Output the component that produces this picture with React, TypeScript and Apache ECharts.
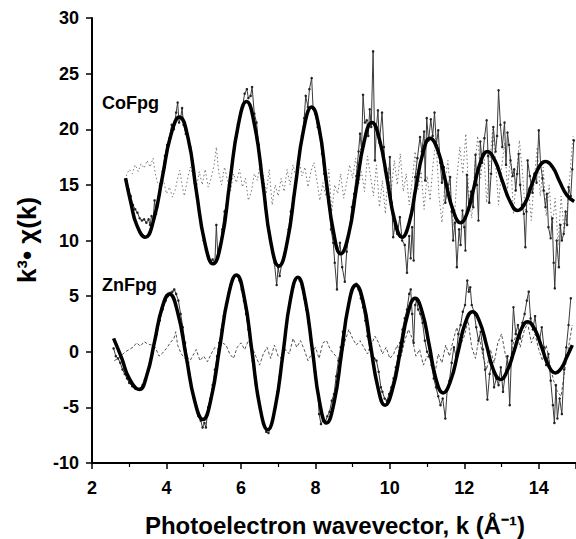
import { useEffect, useRef } from 'react';
import * as echarts from 'echarts';

// ---- CoFpg fitted curve (thick) ----
const coFit: [number, number][] = [
  [2.9, 15.6], [3.05, 13.3], [3.2, 11.4], [3.43, 10.3],
  [3.66, 11.9], [3.89, 15.7], [4.12, 19.5], [4.35, 21.1],
  [4.58, 19.2], [4.8, 14.5], [5.03, 9.8], [5.25, 7.9],
  [5.48, 10.0], [5.7, 15.2], [5.93, 20.4], [6.15, 22.5],
  [6.37, 20.3], [6.59, 15.1], [6.8, 9.9], [7.02, 7.7],
  [7.24, 9.8], [7.46, 14.85], [7.68, 19.9], [7.9, 22.0],
  [8.1, 20.1], [8.29, 15.4], [8.49, 10.7], [8.68, 8.8],
  [8.89, 10.5], [9.1, 14.7], [9.31, 18.9], [9.52, 20.6],
  [9.72, 19.1], [9.93, 15.45], [10.13, 11.8], [10.33, 10.3],
  [10.52, 11.6], [10.7, 14.75], [10.89, 17.9], [11.08, 19.2],
  [11.29, 18.1], [11.49, 15.4], [11.7, 12.7], [11.9, 11.6],
  [12.08, 12.5], [12.26, 14.8], [12.44, 17.1], [12.62, 18.0],
  [12.82, 17.2], [13.02, 15.35], [13.23, 13.5], [13.43, 12.7],
  [13.62, 13.3], [13.8, 14.9], [13.99, 16.5], [14.18, 17.1],
  [14.37, 16.6], [14.56, 15.3], [14.75, 14.1], [14.95, 13.5],
];

// ---- CoFpg experimental data (thin, dotted markers) ----
const coData: [number, number][] = [
  [2.92, 15.4], [2.98, 14.6], [3.04, 14.0], [3.1, 13.2], [3.16, 12.8], [3.22, 12.5],
  [3.28, 12.0], [3.34, 11.8], [3.4, 11.9], [3.46, 11.6], [3.52, 11.9], [3.56, 11.4],
  [3.6, 12.2], [3.64, 11.8], [3.68, 13.6], [3.72, 12.4], [3.78, 13.8], [3.84, 15.1],
  [3.9, 16.2], [3.96, 17.6], [4.02, 18.6], [4.08, 19.2], [4.14, 20.4], [4.2, 20.0],
  [4.26, 21.5], [4.3, 22.4], [4.34, 20.6], [4.38, 21.0], [4.42, 21.9], [4.46, 20.4],
  [4.52, 19.6], [4.58, 19.2], [4.64, 18.4], [4.7, 16.8], [4.76, 15.2], [4.82, 13.9],
  [4.88, 12.6], [4.94, 11.2], [5.0, 10.0], [5.06, 9.2], [5.12, 8.6], [5.18, 8.1],
  [5.24, 8.3], [5.3, 8.0], [5.34, 11.4], [5.38, 8.6], [5.44, 9.4], [5.5, 11.0],
  [5.56, 12.6], [5.62, 13.2], [5.68, 15.0], [5.74, 16.4], [5.8, 18.0], [5.86, 19.2],
  [5.92, 20.4], [5.98, 21.4], [6.04, 22.0], [6.1, 23.2], [6.16, 23.6], [6.2, 22.8],
  [6.26, 23.0], [6.3, 23.8], [6.36, 21.4], [6.42, 20.6], [6.48, 18.6], [6.54, 16.8],
  [6.6, 15.0], [6.66, 13.4], [6.72, 11.6], [6.78, 10.2], [6.84, 9.0], [6.9, 8.0],
  [6.96, 6.0], [7.0, 7.6], [7.04, 6.8], [7.1, 8.0], [7.16, 8.8], [7.22, 9.6],
  [7.28, 11.0], [7.34, 12.6], [7.4, 13.8], [7.46, 15.0], [7.52, 16.6], [7.58, 18.0],
  [7.64, 19.4], [7.7, 21.0], [7.74, 23.0], [7.8, 22.0], [7.84, 23.6], [7.9, 24.6],
  [7.94, 21.8], [8.0, 21.4], [8.06, 20.2], [8.12, 19.6], [8.18, 17.8], [8.24, 16.0],
  [8.3, 14.6], [8.36, 13.4], [8.42, 11.0], [8.48, 9.8], [8.52, 8.0], [8.58, 5.6],
  [8.62, 9.0], [8.66, 9.8], [8.72, 7.6], [8.79, 6.3], [8.84, 9.0], [8.9, 10.6],
  [8.98, 13.0], [9.04, 14.2], [9.1, 15.8], [9.16, 18.0], [9.2, 19.6], [9.24, 18.2],
  [9.28, 23.1], [9.33, 20.6], [9.38, 20.8], [9.42, 19.4], [9.46, 21.8], [9.5, 20.2],
  [9.55, 27.0], [9.6, 17.2], [9.64, 20.2], [9.68, 21.7], [9.72, 18.8], [9.79, 21.5],
  [9.84, 18.4], [9.87, 16.3], [9.92, 16.0], [9.96, 15.2], [10.0, 17.5], [10.05, 13.4],
  [10.09, 10.3], [10.14, 11.4], [10.2, 10.6], [10.27, 12.1], [10.33, 10.0], [10.4, 9.6],
  [10.46, 7.1], [10.52, 10.4], [10.56, 8.4], [10.6, 11.2], [10.64, 8.2], [10.68, 15.7],
  [10.74, 17.4], [10.81, 19.3], [10.86, 18.0], [10.92, 19.8], [10.95, 15.4], [10.99, 21.0],
  [11.04, 19.0], [11.1, 20.9], [11.15, 19.4], [11.2, 21.5], [11.25, 18.6], [11.3, 19.9],
  [11.35, 17.0], [11.4, 15.2], [11.45, 16.6], [11.49, 13.4], [11.55, 14.6], [11.62, 15.7],
  [11.66, 12.6], [11.7, 10.0], [11.75, 11.6], [11.8, 7.6], [11.86, 11.0], [11.9, 9.6],
  [11.95, 12.7], [12.0, 11.2], [12.03, 9.1], [12.07, 15.9], [12.12, 13.0], [12.18, 14.4],
  [12.24, 13.0], [12.3, 17.7], [12.34, 15.0], [12.38, 11.8], [12.43, 18.9], [12.48, 17.0],
  [12.54, 19.2], [12.6, 20.8], [12.64, 17.6], [12.67, 13.4], [12.72, 16.0], [12.78, 20.2],
  [12.84, 18.0], [12.88, 19.4], [12.92, 23.5], [12.97, 20.4], [13.02, 18.4], [13.08, 20.6],
  [13.12, 16.8], [13.16, 19.7], [13.2, 18.6], [13.24, 17.2], [13.3, 15.8], [13.34, 16.4],
  [13.38, 14.5], [13.42, 16.0], [13.46, 17.8], [13.5, 15.0], [13.55, 13.2], [13.6, 12.4],
  [13.64, 9.4], [13.67, 12.6], [13.7, 17.2], [13.76, 15.8], [13.83, 14.3], [13.88, 16.0],
  [13.94, 15.2], [14.0, 19.9], [14.05, 16.8], [14.1, 15.6], [14.13, 14.5], [14.18, 13.0],
  [14.22, 14.2], [14.26, 11.2], [14.32, 10.2], [14.36, 12.0], [14.4, 8.0], [14.43, 5.7],
  [14.48, 10.0], [14.54, 7.6], [14.58, 11.4], [14.62, 10.0], [14.67, 10.6], [14.72, 12.6],
  [14.76, 11.4], [14.8, 14.8], [14.86, 14.0], [14.9, 16.4], [14.94, 19.0],
];

// ---- CoFpg difference curve (dotted grey) ----
const coDiff: [number, number][] = [
  [2.92, 15.8], [3.0, 16.4], [3.08, 16.0], [3.16, 16.8], [3.24, 16.2], [3.32, 16.9],
  [3.4, 16.5], [3.48, 17.2], [3.56, 16.6], [3.64, 17.4], [3.7, 16.0], [3.76, 15.2],
  [3.84, 14.6], [3.92, 15.4], [4.0, 14.2], [4.08, 14.8], [4.16, 13.9], [4.24, 14.6],
  [4.3, 15.6], [4.36, 16.3], [4.42, 15.0], [4.48, 14.0], [4.56, 15.4], [4.64, 16.6],
  [4.72, 15.8], [4.8, 14.6], [4.88, 16.2], [4.96, 15.0], [5.04, 16.4], [5.12, 14.8],
  [5.2, 15.6], [5.28, 16.8], [5.34, 18.4], [5.4, 16.2], [5.48, 15.0], [5.56, 16.6],
  [5.64, 15.4], [5.72, 14.4], [5.8, 16.0], [5.88, 15.2], [5.96, 16.4], [6.04, 14.8],
  [6.12, 15.6], [6.2, 13.6], [6.28, 14.4], [6.36, 16.0], [6.44, 15.4], [6.52, 17.0],
  [6.6, 15.8], [6.68, 14.2], [6.76, 16.4], [6.84, 13.2], [6.92, 15.0], [7.0, 14.0],
  [7.08, 15.6], [7.16, 14.4], [7.24, 16.4], [7.32, 15.0], [7.4, 16.8], [7.48, 15.6],
  [7.56, 17.2], [7.64, 15.8], [7.72, 16.6], [7.8, 14.8], [7.88, 16.2], [7.96, 17.0],
  [8.04, 15.4], [8.12, 13.6], [8.2, 15.2], [8.28, 14.0], [8.36, 16.4], [8.44, 12.6],
  [8.52, 15.0], [8.6, 14.2], [8.68, 16.0], [8.76, 13.8], [8.84, 15.2], [8.92, 16.8],
  [9.0, 15.6], [9.08, 17.4], [9.16, 15.0], [9.24, 16.2], [9.32, 14.4], [9.4, 17.6],
  [9.48, 15.8], [9.56, 14.0], [9.64, 16.8], [9.72, 13.0], [9.8, 15.4], [9.88, 12.4],
  [9.96, 16.6], [10.04, 14.6], [10.12, 17.2], [10.2, 15.0], [10.28, 17.8], [10.36, 14.4],
  [10.44, 16.0], [10.52, 13.2], [10.6, 15.4], [10.68, 18.0], [10.76, 14.6], [10.84, 16.2],
  [10.92, 12.8], [11.0, 15.8], [11.08, 13.6], [11.16, 16.8], [11.24, 19.2], [11.32, 14.0],
  [11.4, 11.6], [11.48, 15.2], [11.56, 17.2], [11.64, 13.4], [11.72, 11.2], [11.8, 15.6],
  [11.88, 18.4], [11.96, 16.0], [12.04, 19.6], [12.12, 14.2], [12.2, 12.0], [12.28, 16.6],
  [12.36, 19.4], [12.44, 15.6], [12.52, 18.2], [12.6, 13.4], [12.68, 16.8], [12.76, 20.0],
  [12.84, 17.0], [12.92, 13.2], [13.0, 16.4], [13.08, 18.8], [13.16, 14.6], [13.24, 17.6],
  [13.32, 12.4], [13.4, 15.8], [13.48, 19.0], [13.56, 16.2], [13.64, 12.6], [13.72, 14.8],
  [13.8, 11.8], [13.88, 15.6], [13.96, 18.4], [14.04, 14.0], [14.12, 16.6], [14.2, 12.2],
  [14.28, 15.0], [14.36, 11.0], [14.44, 13.8], [14.52, 9.6], [14.6, 14.0], [14.68, 10.8],
  [14.76, 12.6], [14.84, 16.0], [14.92, 19.4],
];

// ---- ZnFpg fitted curve (thick) ----
const znFit: [number, number][] = [
  [2.58, 1.2], [2.8, -0.6], [3.0, -2.4], [3.27, -3.4],
  [3.47, -2.14], [3.68, 0.9], [3.88, 3.94], [4.08, 5.2],
  [4.3, 3.55], [4.53, -0.45], [4.76, -4.45], [4.98, -6.1],
  [5.2, -4.2], [5.43, 0.4], [5.66, 5.0], [5.88, 6.9],
  [6.09, 4.87], [6.3, -0.05], [6.51, -4.97], [6.72, -7.0],
  [6.92, -5.0], [7.13, -0.15], [7.33, 4.7], [7.53, 6.7],
  [7.72, 4.79], [7.92, 0.15], [8.11, -4.49], [8.3, -6.4],
  [8.5, -4.6], [8.7, -0.2], [8.89, 4.2], [9.09, 6.0],
  [9.29, 4.42], [9.48, 0.6], [9.68, -3.22], [9.87, -4.8],
  [10.07, -3.4], [10.28, 0.0], [10.48, 3.4], [10.68, 4.8],
  [10.87, 3.56], [11.06, 0.55], [11.24, -2.46], [11.43, -3.7],
  [11.63, -2.63], [11.83, -0.05], [12.02, 2.53], [12.22, 3.6],
  [12.41, 2.71], [12.6, 0.55], [12.78, -1.61], [12.97, -2.5],
  [13.15, -1.74], [13.34, 0.1], [13.52, 1.94], [13.7, 2.7],
  [13.89, 2.03], [14.08, 0.4], [14.26, -1.23], [14.45, -1.9],
  [14.6, -1.5], [14.75, -0.5], [14.9, 0.6],
];

// ---- ZnFpg experimental data ----
const znData: [number, number][] = [
  [2.58, 0.3], [2.64, -0.4], [2.7, -0.6], [2.76, -1.0], [2.82, -1.6], [2.88, -2.0],
  [2.94, -2.4], [3.0, -2.8], [3.08, -3.1], [3.16, -3.3], [3.24, -3.4], [3.3, -3.3],
  [3.36, -3.0], [3.42, -2.5], [3.5, -1.8], [3.58, -0.8], [3.66, 0.4], [3.74, 1.6],
  [3.82, 2.8], [3.9, 3.8], [3.98, 4.6], [4.04, 5.0], [4.1, 5.3], [4.16, 5.4],
  [4.21, 5.6], [4.26, 5.2], [4.32, 4.6], [4.38, 3.4], [4.44, 2.2], [4.5, 0.8],
  [4.56, -0.6], [4.62, -2.0], [4.68, -3.2], [4.74, -4.2], [4.8, -5.0], [4.86, -5.8],
  [4.92, -6.2], [4.97, -6.8], [5.02, -6.4], [5.06, -6.8], [5.12, -5.0], [5.18, -4.2],
  [5.24, -3.0], [5.3, -1.6], [5.36, -0.4], [5.42, 0.8], [5.48, 2.0], [5.54, 3.2],
  [5.6, 4.3], [5.66, 5.2], [5.72, 6.0], [5.78, 6.6], [5.84, 6.9], [5.9, 6.8],
  [5.96, 6.4], [6.02, 5.6], [6.08, 4.6], [6.14, 3.4], [6.2, 2.0], [6.26, 0.6],
  [6.32, -0.8], [6.38, -2.2], [6.44, -3.6], [6.5, -4.8], [6.56, -5.8], [6.62, -6.5],
  [6.68, -7.2], [6.74, -7.3], [6.8, -6.8], [6.86, -6.2], [6.92, -5.0], [6.98, -3.6],
  [7.04, -2.2], [7.1, -0.6], [7.16, 0.8], [7.22, 2.2], [7.28, 3.6], [7.34, 4.8],
  [7.4, 5.8], [7.46, 6.4], [7.52, 6.7], [7.58, 6.4], [7.64, 5.8], [7.7, 4.8],
  [7.76, 3.8], [7.82, 2.6], [7.88, 1.2], [7.94, -0.2], [8.0, -1.8], [8.06, -3.4],
  [8.1, -5.6], [8.15, -6.5], [8.2, -6.2], [8.26, -6.4], [8.32, -5.8], [8.38, -5.4],
  [8.44, -4.4], [8.5, -3.8], [8.56, -2.2], [8.62, -0.8], [8.68, 0.4], [8.74, 1.8],
  [8.8, 2.6], [8.86, 3.6], [8.92, 4.8], [8.98, 5.4], [9.04, 5.8], [9.1, 6.1],
  [9.16, 5.6], [9.22, 4.8], [9.28, 4.0], [9.34, 2.8], [9.4, 1.4], [9.46, 0.2],
  [9.52, -0.4], [9.58, -0.6], [9.64, -0.8], [9.7, -1.8], [9.76, -3.2], [9.8, -3.6],
  [9.86, -4.2], [9.92, -4.4], [9.98, -3.8], [10.04, -3.2], [10.1, -2.4], [10.16, -1.4],
  [10.22, -0.4], [10.28, 0.8], [10.34, 2.0], [10.4, 3.0], [10.46, 3.8], [10.52, 5.2],
  [10.56, 5.6], [10.6, 3.4], [10.64, 0.8], [10.68, 4.2], [10.72, 4.6], [10.76, 3.8],
  [10.82, 3.4], [10.88, 2.6], [10.94, 1.0], [11.0, 0.0], [11.06, -0.4], [11.12, -1.2],
  [11.18, -2.4], [11.24, -3.2], [11.3, -4.0], [11.36, -4.8], [11.42, -4.2], [11.49, -6.0],
  [11.54, -3.4], [11.6, -2.6], [11.66, -1.0], [11.72, 0.4], [11.78, -0.4], [11.84, 1.6],
  [11.9, 2.4], [11.96, 3.6], [12.02, 4.2], [12.08, 6.4], [12.12, 5.4], [12.16, 5.8],
  [12.2, 4.2], [12.26, 3.6], [12.32, 2.2], [12.38, 1.0], [12.44, 1.8], [12.5, 0.2],
  [12.56, -1.6], [12.62, -4.3], [12.68, -2.0], [12.74, -1.0], [12.8, -3.2], [12.86, -2.4],
  [12.92, -3.0], [12.98, -1.4], [13.04, -3.6], [13.1, -2.0], [13.16, -0.4], [13.22, -4.8],
  [13.28, 1.0], [13.32, 4.0], [13.38, 1.6], [13.44, 2.4], [13.5, 1.2], [13.56, 2.6],
  [13.62, 3.4], [13.68, 4.6], [13.73, 5.4], [13.78, 3.0], [13.84, 2.0], [13.9, 3.2],
  [13.96, 1.4], [14.02, 1.0], [14.08, 2.2], [14.14, 0.4], [14.2, -1.2], [14.26, -0.2],
  [14.32, -2.6], [14.38, -4.8], [14.42, -6.4], [14.46, -3.0], [14.5, -6.0], [14.56, -4.2],
  [14.62, -5.6], [14.68, -1.6], [14.74, 0.4], [14.8, 2.4], [14.86, 4.8],
];

// ---- ZnFpg difference curve (thin dashed) ----
const znDiff: [number, number][] = [
  [2.6, -0.8], [2.7, -0.6], [2.8, -0.3], [2.9, 0.0], [3.0, 0.2], [3.1, 0.4], [3.2, 0.8],
  [3.3, 0.5], [3.4, 0.9], [3.5, 0.7], [3.6, 0.6], [3.7, 0.4], [3.8, -0.4], [3.9, -0.1],
  [4.0, 0.3], [4.1, 0.8], [4.2, 1.2], [4.25, 1.8], [4.3, 0.6], [4.4, -0.2], [4.5, -0.6],
  [4.6, -1.0], [4.7, -0.4], [4.8, 0.2], [4.9, -0.8], [5.0, -0.4], [5.1, -0.9], [5.2, -0.2],
  [5.3, 0.4], [5.4, 0.2], [5.5, 0.8], [5.6, 0.6], [5.7, -0.2], [5.8, -0.6], [5.9, 0.4],
  [6.0, 0.8], [6.1, 0.2], [6.2, 1.0], [6.3, 0.4], [6.4, -0.4], [6.5, -1.2], [6.6, -0.2],
  [6.7, 0.4], [6.8, -0.6], [6.9, 0.6], [7.0, -0.4], [7.1, -0.6], [7.2, 0.2], [7.3, -0.2],
  [7.4, 1.2], [7.5, 0.4], [7.6, 1.0], [7.7, 0.2], [7.8, -0.8], [7.9, -0.2], [8.0, 0.4],
  [8.1, -0.6], [8.2, 0.8], [8.3, 1.0], [8.4, 0.2], [8.5, -0.2], [8.6, -0.6], [8.7, -0.4],
  [8.8, 1.0], [8.9, 2.0], [9.0, 1.2], [9.1, 0.6], [9.2, 1.0], [9.3, 0.4], [9.4, -0.2],
  [9.5, 0.6], [9.6, 1.4], [9.7, 0.8], [9.8, -0.2], [9.9, 0.4], [10.0, -0.6], [10.1, -0.2],
  [10.2, 0.6], [10.3, -0.4], [10.4, 1.0], [10.5, 2.0], [10.6, 1.2], [10.7, -0.4], [10.8, 0.2],
  [10.9, -1.2], [11.0, -0.4], [11.1, -0.8], [11.2, -2.2], [11.3, -0.2], [11.4, -1.0], [11.5, 0.6],
  [11.6, -0.4], [11.7, 1.0], [11.8, 2.2], [11.9, 0.6], [12.0, 1.4], [12.1, 2.8], [12.2, 0.4],
  [12.3, -0.6], [12.4, 1.4], [12.5, -0.4], [12.6, -1.6], [12.7, 0.2], [12.8, -1.0], [12.9, 0.8],
  [13.0, 1.6], [13.1, -0.2], [13.2, -1.4], [13.3, 0.6], [13.4, 1.6], [13.5, 0.4], [13.6, 1.8],
  [13.7, 2.6], [13.8, 0.8], [13.9, 1.6], [14.0, 0.2], [14.1, -0.8], [14.2, 0.6], [14.3, -1.2],
  [14.4, -2.6], [14.5, -3.6], [14.6, -4.0], [14.7, -1.6], [14.8, 0.4], [14.9, 2.4],
];

const xTitle = 'Photoelectron wavevector, k (Å\u207B\u00B9)';
const yTitle = 'k\u00B3\u2022 \u03C7(k)';
const seriesLabels = ['CoFpg', 'ZnFpg'];

const FONT = '"Liberation Sans", Arial, Helvetica, sans-serif';

export default function App() {
  const ref = useRef<HTMLDivElement>(null);
  useEffect(() => {
    const chart = echarts.init(ref.current!, null, { renderer: 'svg' });
    const dataLine = (name: string, data: [number, number][]) => ({
      name,
      type: 'line',
      data,
      showSymbol: true,
      symbol: 'circle',
      symbolSize: 2.5,
      itemStyle: { color: '#222' },
      lineStyle: { color: '#3a3a3a', width: 1 },
      z: 3,
    });
    const fitLine = (name: string, data: [number, number][]) => ({
      name,
      type: 'line',
      data,
      smooth: 0.5,
      showSymbol: false,
      lineStyle: { color: '#000', width: 3.5 },
      z: 4,
    });
    chart.setOption({
      animation: false,
      backgroundColor: '#fff',
      grid: { left: 92, right: 0, top: 18, bottom: 76, containLabel: false },
      xAxis: {
        type: 'value',
        min: 2,
        max: 15,
        interval: 2,
        axisLine: { show: true, onZero: false, lineStyle: { color: '#000', width: 2 } },
        axisTick: { show: true, length: 6, lineStyle: { color: '#000', width: 1.5 } },
        minorTick: { show: true, splitNumber: 2, length: 4, lineStyle: { color: '#000', width: 1.2 } },
        splitLine: { show: false },
        axisLabel: {
          color: '#000',
          fontSize: 18,
          fontWeight: 'bold',
          fontFamily: FONT,
          margin: 16,
          showMaxLabel: false,
        },
      },
      yAxis: {
        type: 'value',
        min: -10,
        max: 30,
        interval: 5,
        axisLine: { show: true, onZero: false, lineStyle: { color: '#000', width: 2 } },
        axisTick: { show: true, length: 6, lineStyle: { color: '#000', width: 1.5 } },
        splitLine: { show: false },
        axisLabel: {
          color: '#000',
          fontSize: 18,
          fontWeight: 'bold',
          fontFamily: FONT,
          margin: 13,
        },
      },
      graphic: [
        {
          type: 'text',
          x: 335,
          y: 525,
          style: {
            text: xTitle,
            fill: '#000',
            font: `bold 24px ${FONT}`,
            textAlign: 'center',
            textVerticalAlign: 'middle',
          },
        },
        {
          type: 'text',
          x: 27,
          y: 240,
          rotation: Math.PI / 2,
          style: {
            text: yTitle,
            fill: '#000',
            font: `bold 26px ${FONT}`,
            textAlign: 'center',
            textVerticalAlign: 'middle',
          },
        },
        {
          type: 'text',
          x: 102,
          y: 103,
          style: {
            text: seriesLabels[0],
            fill: '#000',
            font: `bold 18px ${FONT}`,
            textAlign: 'left',
            textVerticalAlign: 'middle',
          },
        },
        {
          type: 'text',
          x: 102,
          y: 285,
          style: {
            text: seriesLabels[1],
            fill: '#000',
            font: `bold 18px ${FONT}`,
            textAlign: 'left',
            textVerticalAlign: 'middle',
          },
        },
      ],
      series: [
        {
          name: 'CoFpg difference',
          type: 'line',
          data: coDiff,
          showSymbol: false,
          lineStyle: { color: '#777', width: 1, type: [1.5, 2.5] },
          z: 2,
        },
        {
          name: 'ZnFpg difference',
          type: 'line',
          data: znDiff,
          showSymbol: false,
          lineStyle: { color: '#555', width: 1, type: [3, 2] },
          z: 2,
        },
        dataLine('CoFpg data', coData),
        dataLine('ZnFpg data', znData),
        fitLine('CoFpg fit', coFit),
        fitLine('ZnFpg fit', znFit),
      ],
    });
    return () => chart.dispose();
  }, []);
  return (
    <div
      ref={ref}
      style={{ position: 'fixed', left: 0, top: 0, width: 576, height: 539, background: '#fff' }}
    />
  );
}
